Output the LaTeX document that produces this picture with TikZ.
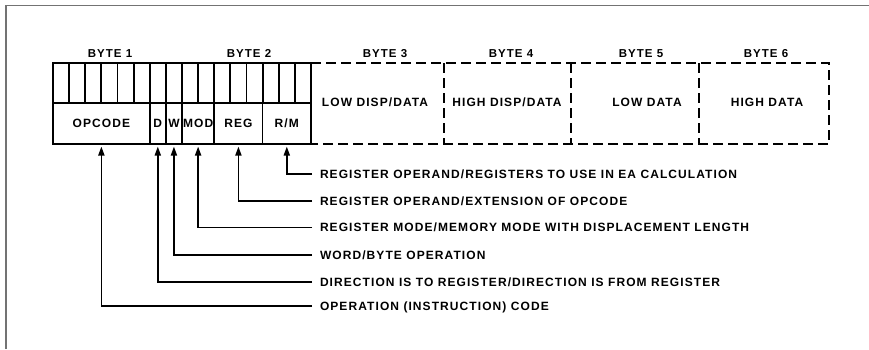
\documentclass[tikz,border=0pt]{standalone}
\usepackage{fontspec}
\setmainfont{Liberation Sans}
\newfontfamily\labfont{Liberation Sans}[LetterSpace=9]

\usetikzlibrary{arrows.meta}

\begin{document}
\begin{tikzpicture}[x=1pt,y=-1pt,
  txt/.style={font=\labfont\bfseries\fontsize{12}{14}\selectfont, inner sep=0pt, outer sep=0pt,
              text height=8.6pt, text depth=0pt},
  field/.style={txt, draw, line width=1.6pt, minimum height=41pt},
  bytelab/.style={txt, font=\labfont\bfseries\fontsize{11.5}{13}\selectfont},
  explain/.style={txt, anchor=west, inner xsep=8pt},
  conn/.style={line width=1.7pt, -{Triangle[length=9pt,width=6pt]}},
  bitline/.style={line width=1.8pt},
  outline/.style={line width=2.8pt},
  dashline/.style={line width=1.6pt, dash pattern=on 10pt off 5pt},
  frameline/.style={draw=black!55, line width=1.4pt}]
\useasboundingbox (0,0) rectangle (869,349);
\def\bw{16.125}

% page frame (top and left edges)
\draw[frameline] (6,349) -- (6,5.5) -- (869,5.5);

% instruction fields of bytes 1 and 2
\node[field, minimum width={6*\bw}] (opcode) at ({53+3*\bw},123.5) {OPCODE};
\node[field, minimum width={\bw}]   (d)      at ({53+6.5*\bw},123.5) {D};
\node[field, minimum width={\bw}]   (w)      at ({53+7.5*\bw},123.5) {W};
\node[field, minimum width={2*\bw}] (mod)    at ({53+9*\bw},123.5) {MOD};
\node[field, minimum width={3*\bw}] (reg)    at ({53+11.5*\bw},123.5) {REG};
\node[field, minimum width={3*\bw}] (rm)     at ({53+14.5*\bw},123.5) {R/M};

% bit cells in the upper row
\foreach \i in {1,...,15} \draw[bitline] ({53+\i*\bw},63) -- ({53+\i*\bw},103);
\draw[line width=1.6pt] (53,103) -- (311,103);
\draw[line width=2.4pt] (182,63) -- (182,144);
\draw[outline] (53,63) rectangle (311,144);

% optional bytes 3 to 6
\draw[dashline] (311,63) -- (829,63) -- (829,144) -- (311,144);
\foreach \x in {444,571,699} \draw[dashline, line width=1.2pt] (\x,63) -- (\x,144);

% byte captions
\node[bytelab] (b1) at (110,53) {BYTE 1};
\node[bytelab] (b2) at (249,53) {BYTE 2};
\node[bytelab] (b3) at (385,53) {BYTE 3};
\node[bytelab] (b4) at (511,53) {BYTE 4};
\node[bytelab] (b5) at (641,53) {BYTE 5};
\node[bytelab] (b6) at (766,53) {BYTE 6};

\node[txt] (t3) at (375,101.7) {LOW DISP/DATA};
\node[txt] (t4) at (507,101.7) {HIGH DISP/DATA};
\node[txt] (t5) at (647,101.7) {LOW DATA};
\node[txt] (t6) at (767,101.7) {HIGH DATA};

% field descriptions
\node[explain] (lrm)  at (312,174.3) {REGISTER OPERAND/REGISTERS TO USE IN EA CALCULATION};
\node[explain] (lreg) at (312,201)   {REGISTER OPERAND/EXTENSION OF OPCODE};
\node[explain] (lmod) at (312,227.5) {REGISTER MODE/MEMORY MODE WITH DISPLACEMENT LENGTH};
\node[explain] (lw)   at (312,255)   {WORD/BYTE OPERATION};
\node[explain] (ld)   at (312,281.7) {DIRECTION IS TO REGISTER/DIRECTION IS FROM REGISTER};
\node[explain] (lop)  at (312,305.7) {OPERATION (INSTRUCTION) CODE};

\draw[conn] (lrm.west)  -| ([yshift=-2.5pt]rm.south);
\draw[conn] (lreg.west) -| ([yshift=-2.5pt]reg.south);
\draw[conn] (lmod.west) -| ([yshift=-2.5pt]mod.south);
\draw[conn] (lw.west)   -| ([yshift=-2.5pt]w.south);
\draw[conn] (ld.west)   -| ([yshift=-2.5pt]d.south);
\draw[conn] (lop.west)  -| ([yshift=-2.5pt]opcode.south);
\end{tikzpicture}
\end{document}
